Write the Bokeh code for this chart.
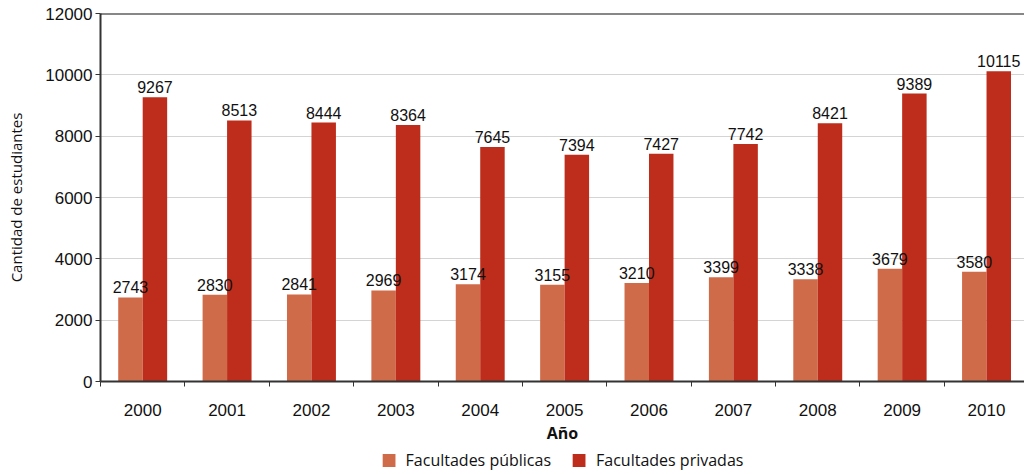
from bokeh.plotting import figure
from bokeh.models import ColumnDataSource, FixedTicker, Legend, LegendItem, Span, LabelSet
from bokeh.layouts import column
from bokeh.core.properties import value
from bokeh.embed import file_html
from bokeh.resources import INLINE

years = ["2000", "2001", "2002", "2003", "2004", "2005", "2006", "2007", "2008", "2009", "2010"]
publicas = [2743, 2830, 2841, 2969, 3174, 3155, 3210, 3399, 3338, 3679, 3580]
privadas = [9267, 8513, 8444, 8364, 7645, 7394, 7427, 7742, 8421, 9389, 10115]
y_ticks = [0, 2000, 4000, 6000, 8000, 10000, 12000]
series_names = ["Facultades públicas", "Facultades privadas"]

C_PUB = "#D06B4A"
C_PRI = "#BE2D1B"
NUM_FONT = "Liberation Sans"
TXT_FONT = "Open Sans"

idx = list(range(len(years)))
bw = 0.29
src_pub = ColumnDataSource(dict(x=[i - bw / 2 for i in idx], top=publicas, lab=[str(v) for v in publicas]))
src_pri = ColumnDataSource(dict(x=[i + bw / 2 for i in idx], top=privadas, lab=[str(v) for v in privadas]))

p = figure(width=1024, height=446, x_range=(-0.5, 10.45), y_range=(0, 12000),
           output_backend="svg", toolbar_location=None,
           min_border_left=100, min_border_right=0, min_border_top=13, min_border_bottom=62)
p.outline_line_color = None

p.vbar(x="x", top="top", width=bw, source=src_pub, fill_color=C_PUB, line_color=None)
p.vbar(x="x", top="top", width=bw, source=src_pri, fill_color=C_PRI, line_color=None)

for src in (src_pub, src_pri):
    p.add_layout(LabelSet(x="x", y="top", text="lab", source=src, text_align="center",
                          text_baseline="bottom", y_offset=4, text_font=value(NUM_FONT),
                          text_font_size=value("16px"), text_color="#111111"))

p.add_layout(Span(location=12000, dimension="width", line_color="#111111", line_width=2))

# y axis
p.yaxis.ticker = FixedTicker(ticks=y_ticks)
p.yaxis.axis_label = "Cantidad de estudiantes"
p.yaxis.axis_label_text_font = TXT_FONT
p.yaxis.axis_label_text_font_style = "normal"
p.yaxis.axis_label_text_font_size = "15px"
p.yaxis.axis_label_text_color = "#111111"
p.yaxis.axis_label_standoff = 16
p.yaxis.major_label_text_font = NUM_FONT
p.yaxis.major_label_text_font_size = "17px"
p.yaxis.major_label_text_color = "#111111"
p.yaxis.major_label_standoff = 3
p.yaxis.major_tick_out = 5
p.yaxis.major_tick_in = 0
p.yaxis.minor_tick_out = 0
p.yaxis.minor_tick_in = 0
p.yaxis.axis_line_color = "#333333"
p.yaxis.axis_line_width = 2
p.yaxis.major_tick_line_color = "#333333"

# x axis
p.xaxis.ticker = FixedTicker(ticks=idx, minor_ticks=[i + 0.5 for i in range(-1, len(years))])
p.xaxis.major_label_overrides = {i: y for i, y in enumerate(years)}
p.xaxis.major_tick_out = 0
p.xaxis.major_tick_in = 0
p.xaxis.minor_tick_out = 5
p.xaxis.minor_tick_in = 0
p.xaxis.minor_tick_line_color = "#333333"
p.xaxis.axis_line_color = "#333333"
p.xaxis.axis_line_width = 2
p.xaxis.major_label_text_font = NUM_FONT
p.xaxis.major_label_text_font_size = "17px"
p.xaxis.major_label_text_color = "#111111"
p.xaxis.major_label_standoff = 17
p.xaxis.axis_label = "Año"
p.xaxis.axis_label_text_font = TXT_FONT
p.xaxis.axis_label_text_font_style = "bold"
p.xaxis.axis_label_text_font_size = "16px"
p.xaxis.axis_label_text_color = "#111111"
p.xaxis.axis_label_standoff = 3

p.xgrid.grid_line_color = None
p.ygrid.grid_line_color = "#d4d4d4"
p.ygrid.grid_line_width = 1

# legend in a small companion figure
lf = figure(width=1024, height=28, x_range=(0, 1), y_range=(0, 1),
            output_backend="svg", toolbar_location=None,
            min_border_left=0, min_border_right=0, min_border_top=0, min_border_bottom=0)
lf.axis.visible = False
lf.grid.grid_line_color = None
lf.outline_line_color = None
l1 = lf.vbar(x=[2], top=[1], width=0.1, fill_color=C_PUB, line_color=None)
l2 = lf.vbar(x=[2], top=[1], width=0.1, fill_color=C_PRI, line_color=None)
legend = Legend(items=[LegendItem(label=series_names[0], renderers=[l1]),
                       LegendItem(label=series_names[1], renderers=[l2])],
                orientation="horizontal", location="center",
                label_text_font=TXT_FONT, label_text_font_size="16px",
                label_text_color="#111111", glyph_width=16, glyph_height=16,
                label_height=16, label_standoff=9, spacing=20, padding=2, margin=0,
                border_line_color=None, background_fill_alpha=0)
lf.add_layout(legend, "center")

open("out.html", "w").write(file_html(column(p, lf, spacing=0), INLINE))
